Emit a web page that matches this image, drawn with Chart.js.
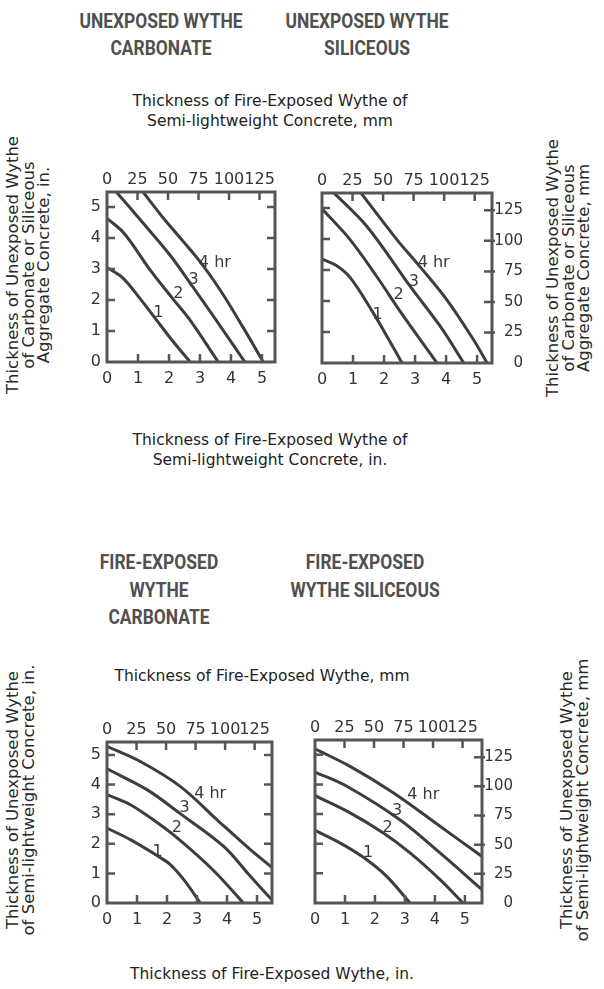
<!DOCTYPE html>
<html>
<head>
<meta charset="utf-8">
<script src="https://cdn.jsdelivr.net/npm/chart.js@4.4.1/dist/chart.umd.min.js"></script>
<style>
  body { margin: 0; background: #fff; width: 604px; height: 989px; position: relative; overflow: hidden; }
  .head { position: absolute; font-family: Roboto, sans-serif; font-weight: 700; font-size: 21px; line-height: 27px;
          color: #505050; text-align: center; white-space: nowrap; transform: translateX(-50%) scaleX(0.83); }
  .cap { position: absolute; font-family: "DejaVu Sans", sans-serif; font-size: 15.5px; line-height: 19.5px;
         color: #222; text-align: center; white-space: nowrap; transform: translateX(-50%); }
  .side { position: absolute; font-family: "DejaVu Sans", sans-serif; font-size: 16.5px; line-height: 15.5px;
          color: #2a2a2a; text-align: center; white-space: nowrap; transform: translate(-50%, -50%) rotate(-90deg); }
  canvas { position: absolute; }
</style>
</head>
<body>
<div class="head" style="left:161px; top:8px;">UNEXPOSED WYTHE<br>CARBONATE</div>
<div class="head" style="left:367px; top:8px;">UNEXPOSED WYTHE<br>SILICEOUS</div>
<div class="cap" style="left:270px; top:92px;">Thickness of Fire-Exposed Wythe of<br>Semi-lightweight Concrete, mm</div>
<div class="side" style="left:28px; top:265px;">Thickness of Unexposed Wythe<br>of Carbonate or Siliceous<br>Aggregate Concrete, in.</div>
<div class="side" style="left:568px; top:268px;">Thickness of Unexposed Wythe<br>of Carbonate or Siliceous<br>Aggregate Concrete, mm</div>
<div class="cap" style="left:270px; top:431px;">Thickness of Fire-Exposed Wythe of<br>Semi-lightweight Concrete, in.</div>

<div class="head" style="left:159px; top:549px; line-height:27.5px;">FIRE-EXPOSED<br>WYTHE<br>CARBONATE</div>
<div class="head" style="left:365px; top:549px; line-height:27.5px;">FIRE-EXPOSED<br>WYTHE SILICEOUS</div>
<div class="cap" style="left:262px; top:667px;">Thickness of Fire-Exposed Wythe, mm</div>
<div class="side" style="left:20px; top:800px;">Thickness of Unexposed Wythe<br>of Semi-lightweight Concrete, in.</div>
<div class="side" style="left:574px; top:800px;">Thickness of Unexposed Wythe<br>of Semi-lightweight Concrete, mm</div>
<div class="cap" style="left:272px; top:965px;">Thickness of Fire-Exposed Wythe, in.</div>

<canvas id="chart_tl" width="222" height="226" style="left:70px; top:166px;"></canvas>
<canvas id="chart_tr" width="218" height="226" style="left:305px; top:167px;"></canvas>
<canvas id="chart_bl" width="220" height="217" style="left:70px; top:716px;"></canvas>
<canvas id="chart_br" width="215" height="219" style="left:298px; top:714px;"></canvas>

<script>
const inchTicks = [1, 2, 3, 4, 5];
const mmTicks = [25, 50, 75, 100, 125];
const hourLabels = ["1", "2", "3", "4 hr"];

// unexposed wythe carbonate (inches: fire-exposed x, unexposed y)
const ucHr1 = [[0, 3.05], [0.5, 2.72], [1.06, 2.05], [1.6, 1.35], [2.1, 0.7], [2.68, 0]];
const ucHr2 = [[0, 4.63], [0.55, 4.15], [1.39, 2.97], [2.14, 2.02], [2.68, 1.35], [3.59, 0]];
const ucHr3 = [[0.31, 5.47], [1.06, 4.6], [2.03, 3.45], [2.75, 2.45], [3.5, 1.38], [4.45, 0]];
const ucHr4 = [[1.17, 5.47], [1.85, 4.6], [2.95, 3.3], [3.65, 2.32], [4.4, 1.1], [5.04, 0]];
const ucLabels = [[1.66, 1.57], [2.3, 2.19], [2.79, 2.65], [3.48, 3.21]];

// unexposed wythe siliceous
const usHr1 = [[0, 3.35], [0.45, 3.15], [0.91, 2.75], [1.66, 1.6], [2.1, 0.85], [2.58, 0]];
const usHr2 = [[0, 4.97], [0.91, 3.97], [1.77, 2.78], [2.53, 1.65], [3.71, 0]];
const usHr3 = [[0.37, 5.5], [1.45, 4.4], [2.85, 2.46], [3.82, 1.17], [4.57, 0]];
const usHr4 = [[1.24, 5.5], [2.42, 3.97], [3.06, 3.22], [4.03, 2.03], [4.89, 0.74], [5.32, 0]];
const usLabels = [[1.79, 1.55], [2.47, 2.19], [2.96, 2.62], [3.6, 3.22]];

// fire-exposed wythe carbonate
const fcHr1 = [[0, 2.53], [0.78, 2.14], [1.67, 1.6], [2.11, 1.3], [2.56, 0.79], [3.11, 0]];
const fcHr2 = [[0, 3.66], [0.78, 3.32], [1.67, 2.72], [2.4, 2.15], [3.55, 1.1], [4.55, 0]];
const fcHr3 = [[0, 4.53], [1.33, 3.83], [2.44, 3.02], [3.89, 1.91], [4.78, 0.9], [5.5, 0.1]];
const fcHr4 = [[0, 5.29], [1.11, 4.78], [2.44, 3.94], [3.67, 2.81], [4.78, 1.8], [5.5, 1.2]];
const fcLabels = [[1.69, 1.74], [2.33, 2.53], [2.59, 3.21], [3.44, 3.68]];

// fire-exposed wythe siliceous
const fsHr1 = [[0, 2.45], [0.83, 2.03], [1.6, 1.55], [2.39, 0.9], [3.17, 0]];
const fsHr2 = [[0, 3.62], [1.17, 3.04], [2.28, 2.36], [3.17, 1.69], [4.17, 0.79], [4.94, 0]];
const fsHr3 = [[0, 4.42], [1.06, 3.94], [2.83, 2.81], [4.17, 1.69], [5.57, 0.45]];
const fsHr4 = [[0, 5.2], [1.17, 4.61], [2.61, 3.72], [4.17, 2.59], [5.57, 1.57]];
const fsLabels = [[1.77, 1.69], [2.42, 2.53], [2.74, 3.1], [3.61, 3.66]];

const MM = 25.4;

// box, inward tick marks and the hour labels
const framePlugin = {
  id: "frame",
  afterDatasetsDraw(chart, args, opts) {
    const ctx = chart.ctx;
    const a = chart.chartArea;
    const sc = chart.scales;
    ctx.save();
    ctx.strokeStyle = "#555";
    ctx.lineWidth = 2.5;
    ctx.beginPath();
    inchTicks.forEach(function (v) {
      const x = sc.x.getPixelForValue(v);
      ctx.moveTo(x, a.bottom); ctx.lineTo(x, a.bottom - 8);
      const y = sc.y.getPixelForValue(v);
      ctx.moveTo(a.left, y); ctx.lineTo(a.left + 8, y);
      if (opts.side === "left") { ctx.moveTo(a.right, y); ctx.lineTo(a.right - 8, y); }
    });
    mmTicks.forEach(function (v) {
      const x = sc.x2.getPixelForValue(v);
      ctx.moveTo(x, a.top); ctx.lineTo(x, a.top + 8);
      if (opts.side === "right") {
        const y = sc.y2.getPixelForValue(v);
        ctx.moveTo(a.right + 3, y); ctx.lineTo(a.right - 8, y);
      }
    });
    ctx.stroke();
    ctx.lineWidth = 3;
    ctx.strokeRect(a.left, a.top, a.right - a.left, a.bottom - a.top);

    ctx.fillStyle = "#3a3a3a";
    ctx.font = "16px 'DejaVu Sans'";
    ctx.textAlign = "center";
    ctx.textBaseline = "middle";
    opts.labelPos.forEach(function (p, i) {
      ctx.fillText(hourLabels[i], sc.x.getPixelForValue(p[0]), sc.y.getPixelForValue(p[1]));
    });
    ctx.restore();
  },
};

function tickFont(size) {
  return { family: "DejaVu Sans", size: size || 16 };
}

function drawPanel(id, curves, labelPos, xMax, yMax, side, fit) {
  new Chart(document.getElementById(id), {
    type: "line",
    data: {
      datasets: curves.map(function (pts) {
        return {
          data: pts.map(function (p) { return { x: p[0], y: p[1] }; }),
          borderColor: "#3d3d3d",
          borderWidth: 3,
          pointRadius: 0,
          tension: 0.35,
          fill: false,
        };
      }),
    },
    options: {
      responsive: false,
      animation: false,
      events: [],
      layout: { padding: 0 },
      plugins: {
        legend: { display: false },
        tooltip: { enabled: false },
        frame: { side: side, labelPos: labelPos },
      },
      scales: {
        x: {
          type: "linear", position: "bottom", min: 0, max: xMax,
          afterFit: function (s) { s.height = fit.b; },
          grid: { display: false, drawTicks: false }, border: { display: false },
          ticks: { stepSize: 1, includeBounds: false, autoSkip: false, maxRotation: 0, padding: 7, color: "#333", font: tickFont() },
        },
        x2: {
          type: "linear", position: "top", min: 0, max: xMax * MM,
          afterFit: function (s) { s.height = fit.t; },
          grid: { display: false, drawTicks: false }, border: { display: false },
          ticks: { stepSize: 25, includeBounds: false, autoSkip: false, maxRotation: 0, padding: 3, color: "#333", font: tickFont() },
        },
        y: {
          type: "linear", position: "left", min: 0, max: yMax,
          afterFit: function (s) { s.width = fit.l; },
          grid: { display: false, drawTicks: false }, border: { display: false },
          ticks: { display: side === "left", stepSize: 1, includeBounds: false, autoSkip: false, padding: 6, color: "#333", font: tickFont() },
        },
        y2: {
          type: "linear", position: "right", min: 0, max: yMax * MM,
          afterFit: function (s) { s.width = fit.r; },
          grid: { display: false, drawTicks: false }, border: { display: false },
          ticks: { display: side === "right", stepSize: 25, includeBounds: false, autoSkip: false, crossAlign: "far", padding: 2, color: "#333", font: tickFont(15) },
        },
      },
    },
    plugins: [framePlugin],
  });
}

drawPanel("chart_tl", [ucHr1, ucHr2, ucHr3, ucHr4], ucLabels, 5.42, 5.48, "left", { l: 37, r: 17, t: 26, b: 30 });
drawPanel("chart_tr", [usHr1, usHr2, usHr3, usHr4], usLabels, 5.48, 5.48, "right", { l: 17, r: 31, t: 26, b: 30 });
drawPanel("chart_bl", [fcHr1, fcHr2, fcHr3, fcHr4], fcLabels, 5.5, 5.44, "left", { l: 37, r: 18, t: 26, b: 30 });
drawPanel("chart_br", [fsHr1, fsHr2, fsHr3, fsHr4], fsLabels, 5.57, 5.5, "right", { l: 17, r: 31, t: 26, b: 30 });
</script>
</body>
</html>
